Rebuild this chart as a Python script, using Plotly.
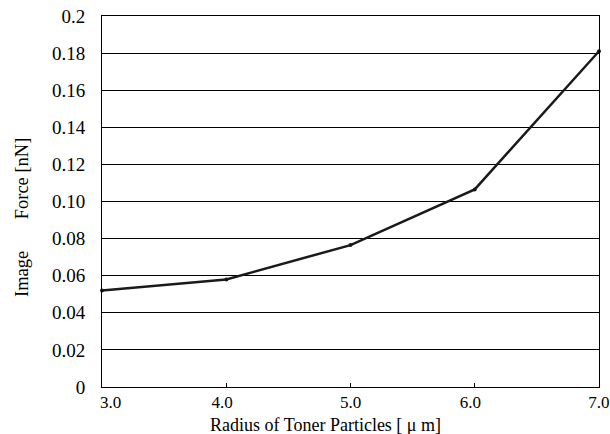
import plotly.graph_objects as go

radius = [3.0, 4.0, 5.0, 6.0, 7.0]
image_force = [0.052, 0.058, 0.0765, 0.1065, 0.181]

y_tickvals = [0, 0.02, 0.04, 0.06, 0.08, 0.10, 0.12, 0.14, 0.16, 0.18, 0.2]
y_ticktext = ["0", "0.02", "0.04", "0.06", "0.08", "0.10", "0.12", "0.14", "0.16", "0.18", "0.2"]
x_tickvals = [3, 4, 5, 6, 7]
x_ticktext = ["\u2002\u20023.0", "4.0\u2002", "5.0", "6.0\u2002", "7.0"]

x_title = "Radius of Toner Particles [ \u03bc m]"
y_title = "Image\u2003\u2002\u2009Force [nN]"

font_family = "'Liberation Serif', 'DejaVu Serif', Times, serif"

fig = go.Figure()
fig.add_trace(go.Scatter(
    x=radius, y=image_force, mode="lines+markers",
    line=dict(color="#1a1a1a", width=2.5),
    marker=dict(color="#1a1a1a", size=4),
    showlegend=False,
    cliponaxis=False,
))

fig.update_layout(
    width=610, height=434,
    margin=dict(l=102, r=11, t=16, b=47),
    paper_bgcolor="white", plot_bgcolor="white",
    font=dict(family=font_family, color="black", size=17),
    xaxis=dict(
        range=[2.9999, 7.0001], tickvals=x_tickvals, ticktext=x_ticktext,
        showgrid=False, zeroline=False, automargin=False,
        showline=True, linecolor="black", linewidth=1, mirror=True,
        ticks="inside", ticklen=4, tickcolor="black",
        tickfont=dict(size=17, family=font_family),
        ticklabeloverflow="allow", ticklabelstandoff=0,
    ),
    yaxis=dict(
        range=[0, 0.2], tickvals=y_tickvals, ticktext=y_ticktext,
        showgrid=True, gridcolor="black", gridwidth=1, zeroline=False, automargin=False,
        showline=True, linecolor="black", linewidth=1, mirror=True,
        ticks="", tickfont=dict(size=19, family=font_family), ticklabelstandoff=12,
    ),
    annotations=[
        dict(text=x_title, xref="paper", yref="paper",
             x=(325 - 102) / 497, y=-(425 - 387) / 371,
             xanchor="center", yanchor="middle", showarrow=False,
             font=dict(size=18, family=font_family)),
        dict(text=y_title, xref="paper", yref="paper",
             x=-(102 - 22) / 497, y=(387 - 218) / 371,
             xanchor="center", yanchor="middle", showarrow=False, textangle=-90,
             font=dict(size=18.5, family=font_family)),
    ],
)

fig.write_html(
    "out.html",
    config={"displayModeBar": False},
    post_script="document.body.style.margin='0px';document.body.style.overflow='hidden';",
)
